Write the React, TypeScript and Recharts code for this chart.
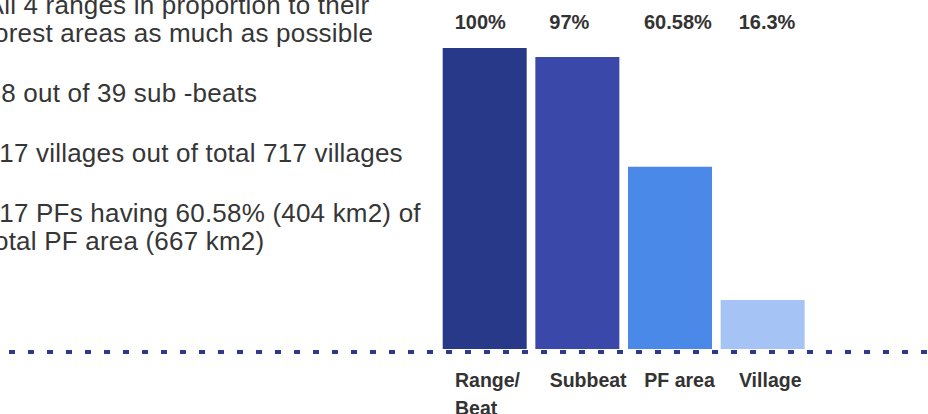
import React from "react";
import {
  BarChart, Bar, XAxis, YAxis, Cell, LabelList, ReferenceLine,
} from "recharts";

// coverage of each unit, in percent
const categories = ["Range/ Beat", "Subbeat", "PF area", "Village"];
const coverage = [100, 97, 60.58, 16.3];
const valueLabels = ["100%", "97%", "60.58%", "16.3%"];
const barColors = ["#29398A", "#3A49A9", "#4B89E8", "#A5C3F5"];

// notes shown to the left of the bars, one array per paragraph
const notes = [
  ["All 4 ranges in proportion to their", "forest areas as much as possible"],
  ["38 out of 39 sub -beats"],
  ["117 villages out of total 717 villages"],
  ["117 PFs having 60.58% (404 km2) of", "total PF area (667 km2)"],
];

const data = categories.map((name, i) => ({ name, value: coverage[i] }));

const FONT = '"Liberation Sans", Arial, Helvetica, sans-serif';
const TEXT = "#333333";

// labels sit left-aligned inside each column, drifting right a little per column
const labelX = (barLeft: number, index: number) => barLeft + 12 + index * 2;

const CategoryTick = (props: any) => {
  const { x, y, payload, index } = props;
  const left = labelX(x - 42, index);
  const words = payload.value === "Range/ Beat" ? payload.value.split(" ") : [payload.value];
  return (
    <text x={left} y={y + 30} fill={TEXT} fontFamily={FONT} fontSize={19.5} fontWeight={700}>
      {words.map((w: string, i: number) => (
        <tspan key={i} x={left} dy={i === 0 ? 0 : 28}>{w}</tspan>
      ))}
    </text>
  );
};

const ValueLabel = (props: any) => {
  const { x, index } = props;
  return (
    <text x={labelX(x, index)} y={29} fill={TEXT} fontFamily={FONT} fontSize={20} fontWeight={700}>
      {valueLabels[index]}
    </text>
  );
};

const DottedBase = (props: any) => {
  const y = props.y1 + 3;
  return (
    <line x1={9} y1={y} x2={928} y2={y} stroke="#2B3990" strokeWidth={4} strokeDasharray="6 13" />
  );
};

function Notes() {
  let y = 14;
  const out: React.ReactNode[] = [];
  notes.forEach((para, p) => {
    para.forEach((line, l) => {
      out.push(
        <text key={`${p}-${l}`} x={-13.4} y={y} fill="#363636" fontFamily={FONT} fontSize={26} letterSpacing={0.2}>
          {line}
        </text>
      );
      y += 28;
    });
    y += 32;
  });
  return (
    <svg width={928} height={414} style={{ position: "absolute", left: 0, top: 0 }}>
      {out}
    </svg>
  );
}

export default function App() {
  return (
    <div style={{ position: "absolute", left: 0, top: 0, width: 928, height: 414, overflow: "hidden", background: "#fff" }}>
      <Notes />
      <div style={{ position: "absolute", left: 0, top: 0 }}>
        <BarChart width={928} height={414} data={data} margin={{ top: 48, right: 118.7, left: 438.7, bottom: 35 }}>
          <XAxis dataKey="name" axisLine={false} tickLine={false} interval={0} tick={<CategoryTick />} />
          <YAxis hide domain={[0, 100]} />
          <Bar dataKey="value" barSize={84} isAnimationActive={false}>
            {data.map((d, i) => (
              <Cell key={d.name} fill={barColors[i]} />
            ))}
            <LabelList dataKey="value" content={<ValueLabel />} />
          </Bar>
          <ReferenceLine y={0} shape={<DottedBase />} />
        </BarChart>
      </div>
    </div>
  );
}
